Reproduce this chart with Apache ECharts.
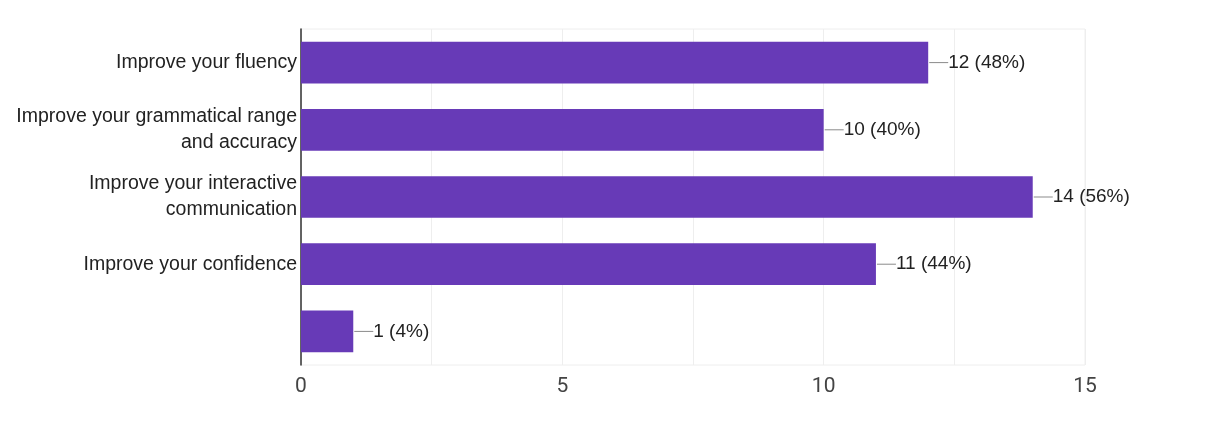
<!DOCTYPE html>
<html>
<head>
<meta charset="utf-8">
<script src="https://cdn.jsdelivr.net/npm/echarts@6/dist/echarts.min.js"></script>
<style>html,body{margin:0;padding:0;background:#fff}#c{width:1205px;height:446px}</style>
</head>
<body>
<div id="c"></div>
<script>
const categories = [
  "Improve your fluency",
  "Improve your grammatical range\nand accuracy",
  "Improve your interactive\ncommunication",
  "Improve your confidence",
  ""
];
const counts = [12, 10, 14, 11, 1];
const percents = ["48%", "40%", "56%", "44%", "4%"];
const xTicks = [0, 5, 10, 15];

const SANS = '"Liberation Sans", Arial, sans-serif';
const chart = echarts.init(document.getElementById('c'), null, {renderer: 'canvas'});
chart.setOption({
  animation: false,
  backgroundColor: '#ffffff',
  grid: {left: 301, right: 120, top: 29, bottom: 81, show: true, borderColor: '#eeeeee', borderWidth: 1},
  xAxis: {
    type: 'value', min: 0, max: 15, interval: 2.5,
    axisLine: {show: false}, axisTick: {show: false},
    splitLine: {show: true, lineStyle: {color: '#eeeeee', width: 1}},
    axisLabel: {
      color: '#444', fontFamily: 'Roboto, sans-serif', fontSize: 21, margin: 11,
      formatter: v => (xTicks.indexOf(v) >= 0 ? String(v) : '')
    }
  },
  yAxis: {
    type: 'category', data: categories, inverse: true,
    axisLine: {show: true, lineStyle: {color: '#333', width: 1.5}},
    axisTick: {show: false},
    axisLabel: {color: '#222', fontFamily: SANS, fontSize: 19.5, lineHeight: 26, margin: 4, align: 'right'}
  },
  series: [{
    type: 'bar',
    data: counts,
    barCategoryGap: '38%',
    itemStyle: {color: '#673ab7'},
    label: {
      show: true, position: 'right', distance: 1,
      formatter: p => '{l|}{v|' + counts[p.dataIndex] + ' (' + percents[p.dataIndex] + ')}',
      rich: {
        l: {width: 19, height: 1, backgroundColor: '#8a8a8a', verticalAlign: 'middle'},
        v: {color: '#222', fontFamily: SANS, fontSize: 19, padding: [0, 0, 0, 0], verticalAlign: 'middle'}
      }
    }
  }]
});
</script>
</body>
</html>
